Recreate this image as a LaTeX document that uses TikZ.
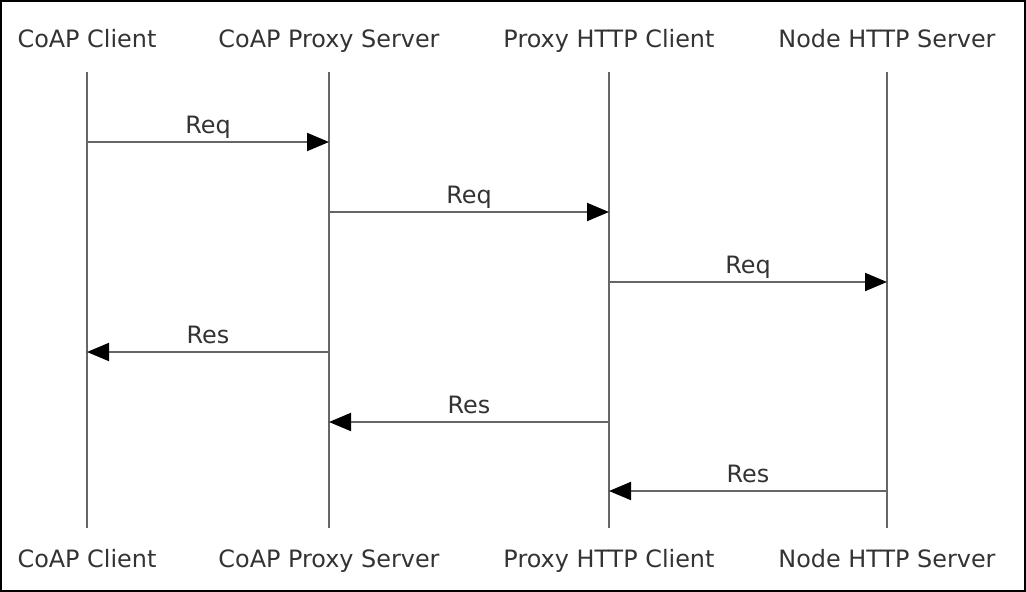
\documentclass[tikz,border=0pt]{standalone}
\usepackage{fontspec}
\setmainfont{DejaVu Sans}
\usetikzlibrary{arrows.meta,positioning}

\begin{document}
\begin{tikzpicture}[x=1pt,y=-1pt]
  \tikzset{ActorStyle/.style = {font         = \fontsize{23.9}{28}\selectfont,
                                text         = black!80,
                                anchor       = base,
                                inner sep    = 0pt},
           LifeStyle/.style  = {draw = black!60, line width = 2pt},
           MsgStyle/.style   = {draw = black!60, line width = 2pt,
                                -{Triangle[length=22pt,width=18pt,color=black]}},
           MsgLabel/.style   = {font      = \fontsize{23.9}{28}\selectfont,
                                text      = black!80,
                                anchor    = base,
                                inner sep = 0pt,
                                yshift    = 8.5pt}}
  \useasboundingbox (0,0) rectangle (1026,592);
  \draw[black, line width=2pt] (1,1) rectangle (1025,591);
  %%% ACTEURS %%%
  \node[ActorStyle] (clientT) at (87,47)  {CoAP Client};
  \node[ActorStyle] (proxyT)  at (329,47) {CoAP Proxy Server};
  \node[ActorStyle] (httpT)   at (609,47) {Proxy HTTP Client};
  \node[ActorStyle] (nodeT)   at (887,47) {Node HTTP Server};
  \node[ActorStyle] (clientB) at (87,567)  {CoAP Client};
  \node[ActorStyle] (proxyB)  at (329,567) {CoAP Proxy Server};
  \node[ActorStyle] (httpB)   at (609,567) {Proxy HTTP Client};
  \node[ActorStyle] (nodeB)   at (887,567) {Node HTTP Server};
  %%% LIGNES DE VIE %%%
  \coordinate (c1) at (87,72);  \coordinate (c1b) at (87,528);
  \coordinate (c2) at (329,72); \coordinate (c2b) at (329,528);
  \coordinate (c3) at (609,72); \coordinate (c3b) at (609,528);
  \coordinate (c4) at (887,72); \coordinate (c4b) at (887,528);
  \draw[LifeStyle] (c1) -- (c1b);
  \draw[LifeStyle] (c2) -- (c2b);
  \draw[LifeStyle] (c3) -- (c3b);
  \draw[LifeStyle] (c4) -- (c4b);
  %%% MESSAGES %%%
  \coordinate (r1) at (0,142);
  \coordinate (r2) at (0,212);
  \coordinate (r3) at (0,282);
  \coordinate (r4) at (0,352);
  \coordinate (r5) at (0,422);
  \coordinate (r6) at (0,491);
  %
  \draw[MsgStyle] (c1 |- r1) -- node[MsgLabel]{Req} (c2 |- r1);
  \draw[MsgStyle] (c2 |- r2) -- node[MsgLabel]{Req} (c3 |- r2);
  \draw[MsgStyle] (c3 |- r3) -- node[MsgLabel]{Req} (c4 |- r3);
  \draw[MsgStyle] (c2 |- r4) -- node[MsgLabel]{Res} (c1 |- r4);
  \draw[MsgStyle] (c3 |- r5) -- node[MsgLabel]{Res} (c2 |- r5);
  \draw[MsgStyle] (c4 |- r6) -- node[MsgLabel]{Res} (c3 |- r6);
\end{tikzpicture}
\end{document}
